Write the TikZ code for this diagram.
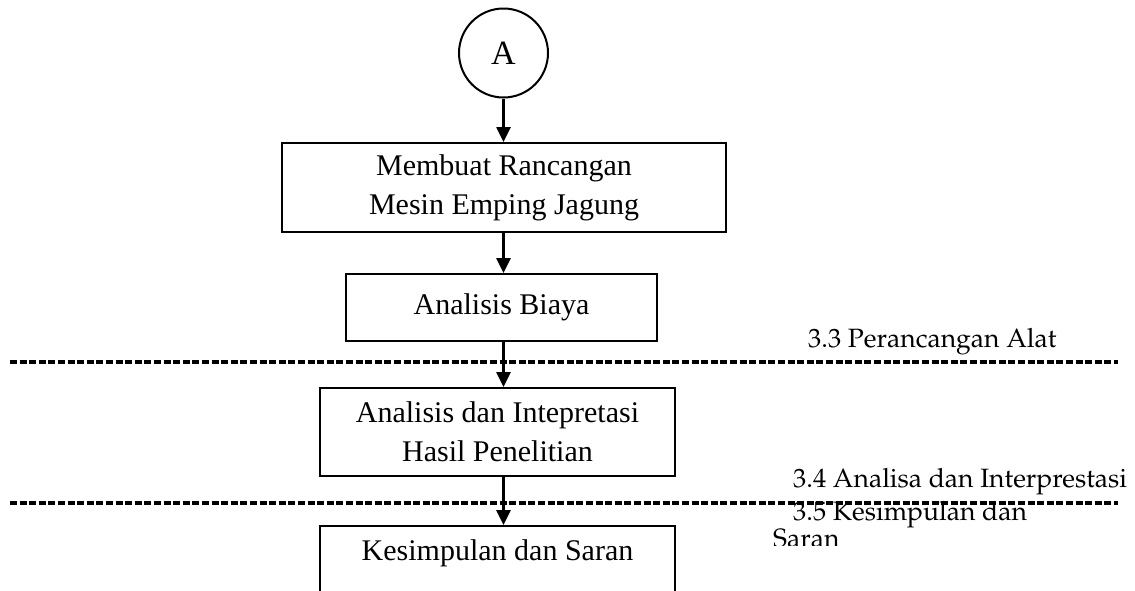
\documentclass[tikz,border=0pt]{standalone}
\usepackage[T1]{fontenc}
\usepackage{fontspec}
\setmainfont{Liberation Serif}
\usetikzlibrary{arrows.meta}
\newcommand\palfont{\fontencoding{T1}\fontfamily{ppl}\selectfont}
\begin{document}
\begin{tikzpicture}[x=1pt,y=-1pt,
  box/.style={draw, line width=2pt, align=center, font=\fontsize{30}{39}\selectfont, inner sep=0pt},
  arr/.style={line width=2.6pt, -{Triangle[length=15pt,width=14pt]}},
  sepline/.style={line width=3.2pt, dash pattern=on 7pt off 2.6pt},
  lab/.style={anchor=base west, inner sep=0pt, font=\palfont\fontsize{26.5}{26.5}\selectfont}]
\useasboundingbox (0,0) rectangle (1135,590);
\clip (0,0) rectangle (1135,590);
% separators
\coordinate (d1l) at (10,362);
\coordinate (d1r) at (1118,362);
\coordinate (d2l) at (10,503);
\coordinate (d2r) at (1118,503);
\draw[sepline] (d1l) -- (d1r);
\draw[sepline] (d2l) -- (d2r);
% nodes
\node[draw, circle, line width=2pt, minimum size=89pt, inner sep=0pt, font=\fontsize{34}{40}\selectfont] (A) at (503.5,53) {A};
\node[box, minimum width=444pt, minimum height=89pt] (b1) at (504,187.5) {Membuat Rancangan\\Mesin Emping Jagung};
\node[box, minimum width=311pt, minimum height=67pt] (b2) at (501.5,307.5) {Analisis Biaya};
\node[box, minimum width=355pt, minimum height=88pt] (b3) at (497.5,432) {Analisis dan Intepretasi\\Hasil Penelitian};
\node[box, minimum width=355pt, minimum height=88pt] (b4) at (497.5,570) {Kesimpulan dan Saran\\ ~};
% arrows
\draw[arr] (A.south) -- (b1.north -| A.south);
\draw[arr] (b1.south -| A.south) -- (b2.north -| A.south);
\draw[arr] (b2.south -| A.south) -- (b3.north -| A.south);
\draw[arr] (b3.south -| A.south) -- (b4.north -| A.south);
% section labels
\node[lab] (l33) at (808,347) {3.3 Perancangan Alat};
\node[lab] (l34) at (793,487) {3.4 Analisa dan Interprestasi};
\node[lab] (l35) at (793,520) {3.5 Kesimpulan dan};
\begin{scope}
\clip (760,505) rectangle (1135,545);
\node[lab] (l35b) at (773,547) {Saran};
\end{scope}
\end{tikzpicture}
\end{document}
